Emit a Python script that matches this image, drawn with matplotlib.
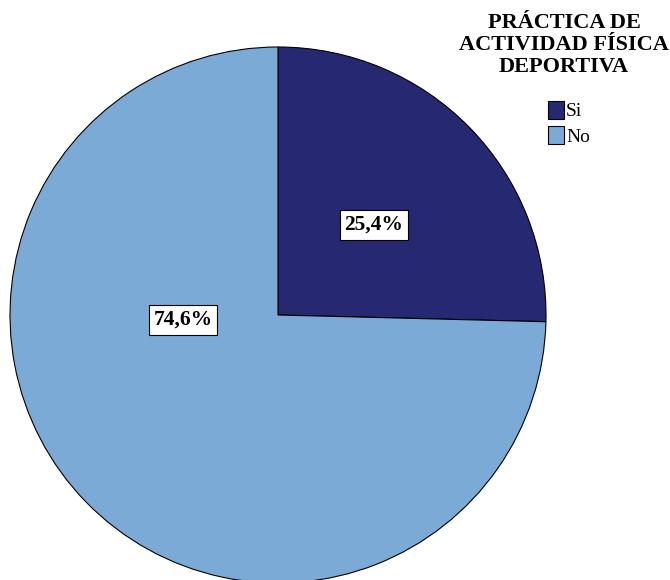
import matplotlib.pyplot as plt

categorias = ['Si', 'No']
porcentajes = [25.4, 74.6]
etiquetas = ['25,4%', '74,6%']
colores = ['#262872', '#7BAAD7']
titulo = 'PRÁCTICA DE\nACTIVIDAD FÍSICA\nDEPORTIVA'

plt.rcParams['font.family'] = ['Liberation Serif', 'DejaVu Serif']

fig = plt.figure(figsize=(6.7, 5.8), dpi=100)
ax = fig.add_axes([0, 0, 1, 1])

wedges, _ = ax.pie(porcentajes, colors=colores, startangle=90, counterclock=False,
                   center=(278, 265), radius=268,
                   wedgeprops=dict(edgecolor='black', linewidth=0.8))
ax.set_xlim(0, 670)
ax.set_ylim(0, 580)
ax.set_aspect('equal')
ax.axis('off')

# etiquetas de porcentaje
pos = [(374, 580 - 225), (183, 580 - 320)]
for (x, y), t in zip(pos, etiquetas):
    ax.text(x, y, t, ha='center', va='center', fontsize=15.5, fontweight='bold',
            bbox=dict(boxstyle='square,pad=0.22', fc='white', ec='black', lw=0.8))

fig.text(564 / 670, 1 - 13 / 580, titulo, ha='center', va='top', fontsize=16,
         fontweight='bold', linespacing=1.15)

leg = fig.legend(wedges, categorias, loc='upper left', bbox_to_anchor=(538 / 670, 1 - 91 / 580),
                 frameon=False, fontsize=14, handlelength=0.85, handleheight=1.05,
                 handletextpad=0.1, labelspacing=0.3, borderpad=0)

fig.savefig('out.png', dpi=100)
